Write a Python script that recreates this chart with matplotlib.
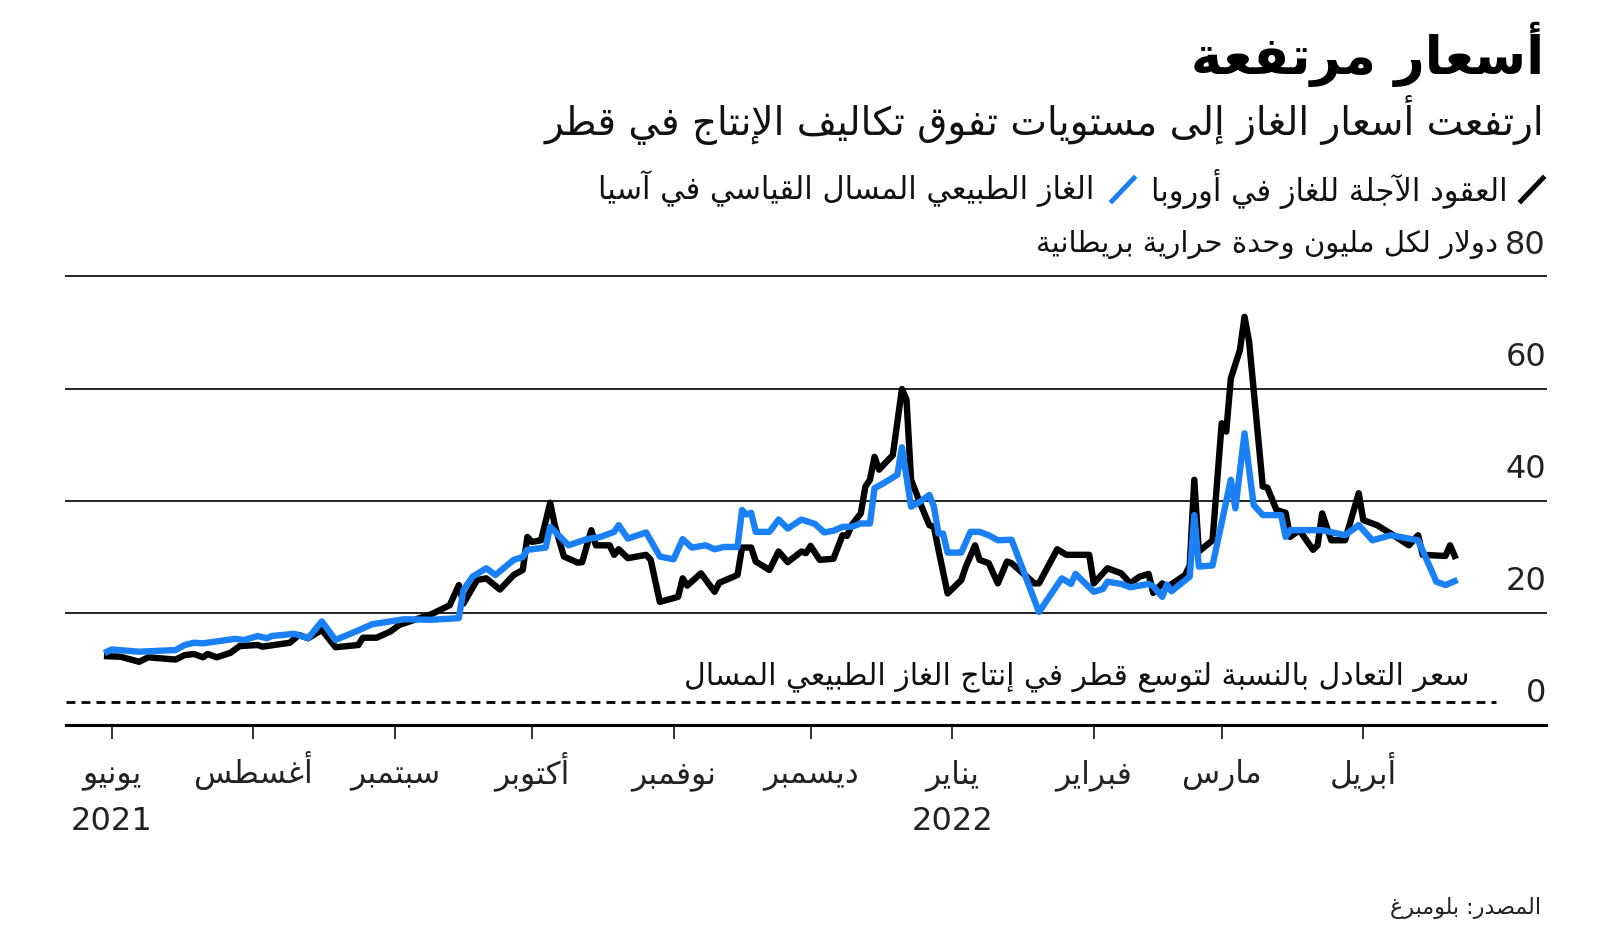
import re
import matplotlib
matplotlib.use('Agg')
import matplotlib.pyplot as plt
import pandas as pd
from matplotlib.lines import Line2D

plt.rcParams['font.family'] = ['DejaVu Sans']

# matplotlib has no Arabic shaping, so pick the presentation forms by hand
_LETTERS = [('\u0621', 1), ('\u0622', 2), ('\u0623', 2), ('\u0624', 2), ('\u0625', 2),
            ('\u0626', 4), ('\u0627', 2), ('\u0628', 4), ('\u0629', 2), ('\u062A', 4),
            ('\u062B', 4), ('\u062C', 4), ('\u062D', 4), ('\u062E', 4), ('\u062F', 2),
            ('\u0630', 2), ('\u0631', 2), ('\u0632', 2), ('\u0633', 4), ('\u0634', 4),
            ('\u0635', 4), ('\u0636', 4), ('\u0637', 4), ('\u0638', 4), ('\u0639', 4),
            ('\u063A', 4), ('\u0641', 4), ('\u0642', 4), ('\u0643', 4), ('\u0644', 4),
            ('\u0645', 4), ('\u0646', 4), ('\u0647', 4), ('\u0648', 2), ('\u0649', 2),
            ('\u064A', 4)]
FORMS = {}
_code = 0xFE80
for _ch, _n in _LETTERS:
    FORMS[_ch] = [chr(_code + i) for i in range(_n)]
    _code += _n
LAM_ALEF = {'\u0622': 0xFEF5, '\u0623': 0xFEF7, '\u0625': 0xFEF9, '\u0627': 0xFEFB}


def _dual(c):
    return c in FORMS and len(FORMS[c]) == 4


def _shape(s):
    out = []
    i = 0
    while i < len(s):
        c = s[i]
        if c not in FORMS:
            out.append(c)
            i += 1
            continue
        prev_j = i > 0 and _dual(s[i - 1]) and len(FORMS[c]) > 1
        if c == '\u0644' and i + 1 < len(s) and s[i + 1] in LAM_ALEF:
            out.append(chr(LAM_ALEF[s[i + 1]] + (1 if prev_j else 0)))
            i += 2
            continue
        nxt = s[i + 1] if i + 1 < len(s) else ''
        next_j = _dual(c) and nxt in FORMS and len(FORMS[nxt]) > 1
        f = FORMS[c]
        if prev_j and next_j:
            out.append(f[3])
        elif prev_j:
            out.append(f[1])
        elif next_j:
            out.append(f[2])
        else:
            out.append(f[0])
        i += 1
    return ''.join(out)


def ar(text):
    lines = []
    for line in text.split('\n'):
        vis = _shape(line)[::-1]
        vis = re.sub(r'[0-9A-Za-z.,%]+', lambda m: m.group(0)[::-1], vis)
        lines.append(vis)
    return '\n'.join(lines)


# ---- data (US$ per MMBtu) ----
europe_dates = ['2021-06-30', '2021-07-03', '2021-07-07', '2021-07-09', '2021-07-15', '2021-07-17',
                '2021-07-19', '2021-07-21', '2021-07-22', '2021-07-24', '2021-07-27', '2021-07-29',
                '2021-08-02', '2021-08-03', '2021-08-09', '2021-08-11', '2021-08-13', '2021-08-16',
                '2021-08-19', '2021-08-24', '2021-08-25', '2021-08-28', '2021-08-31', '2021-09-02',
                '2021-09-09', '2021-09-13', '2021-09-15', '2021-09-16', '2021-09-19', '2021-09-21',
                '2021-09-24', '2021-09-27', '2021-09-29', '2021-09-30', '2021-10-01', '2021-10-03',
                '2021-10-05', '2021-10-06', '2021-10-08', '2021-10-11', '2021-10-12', '2021-10-14',
                '2021-10-15', '2021-10-18', '2021-10-19', '2021-10-20', '2021-10-22', '2021-10-26',
                '2021-10-27', '2021-10-29', '2021-11-02', '2021-11-03', '2021-11-04', '2021-11-07',
                '2021-11-10', '2021-11-11', '2021-11-15', '2021-11-16', '2021-11-18', '2021-11-19',
                '2021-11-22', '2021-11-24', '2021-11-26', '2021-11-29', '2021-11-30', '2021-12-01',
                '2021-12-03', '2021-12-06', '2021-12-08', '2021-12-09', '2021-12-10', '2021-12-12',
                '2021-12-13', '2021-12-14', '2021-12-15', '2021-12-16', '2021-12-17', '2021-12-19',
                '2021-12-21', '2021-12-22', '2021-12-23', '2021-12-25', '2021-12-27', '2021-12-28',
                '2021-12-29', '2021-12-31', '2022-01-03', '2022-01-04', '2022-01-06', '2022-01-07',
                '2022-01-09', '2022-01-11', '2022-01-13', '2022-01-14', '2022-01-19', '2022-01-20',
                '2022-01-24', '2022-01-26', '2022-01-31', '2022-02-01', '2022-02-04', '2022-02-07',
                '2022-02-09', '2022-02-11', '2022-02-13', '2022-02-14', '2022-02-16', '2022-02-17',
                '2022-02-21', '2022-02-22', '2022-02-23', '2022-02-24', '2022-02-27', '2022-03-01',
                '2022-03-02', '2022-03-03', '2022-03-05', '2022-03-06', '2022-03-07', '2022-03-10',
                '2022-03-11', '2022-03-13', '2022-03-15', '2022-03-16', '2022-03-18', '2022-03-21',
                '2022-03-22', '2022-03-23', '2022-03-25', '2022-03-28', '2022-03-31', '2022-04-01',
                '2022-04-04', '2022-04-07', '2022-04-11', '2022-04-13', '2022-04-14', '2022-04-19',
                '2022-04-20', '2022-04-21']
europe_vals = [12.2, 12.1, 11.2, 12.0, 11.6, 12.4, 12.6, 12.0, 12.6, 12.0, 12.8, 14.0,
               14.2, 13.9, 14.6, 16.0, 15.4, 16.9, 13.8, 14.2, 15.5, 15.5, 16.6, 17.8,
               19.7, 21.3, 24.9, 21.6, 25.8, 26.1, 24.1, 26.7, 27.6, 33.5, 32.6, 32.9,
               39.6, 35.6, 30.0, 28.9, 29.0, 34.7, 32.0, 32.0, 30.3, 31.3, 29.7, 30.3,
               29.4, 21.9, 22.8, 26.1, 24.8, 27.0, 23.7, 25.3, 26.7, 31.6, 31.6, 29.1,
               27.6, 30.9, 29.0, 30.9, 30.6, 31.9, 29.4, 29.6, 33.8, 33.7, 35.6, 37.7,
               42.5, 43.7, 47.8, 45.5, 46.4, 48.1, 59.9, 58.0, 43.7, 39.5, 35.6, 35.3,
               31.2, 23.4, 25.8, 28.2, 32.0, 29.4, 28.8, 25.2, 29.1, 28.8, 25.2, 25.2,
               31.3, 30.3, 30.3, 25.2, 27.9, 27.0, 25.2, 26.4, 26.9, 23.5, 25.2, 24.5,
               26.7, 28.4, 43.7, 30.9, 32.9, 53.8, 52.3, 61.8, 66.9, 72.8, 68.4, 42.5,
               42.3, 38.3, 37.8, 33.5, 34.7, 31.2, 32.0, 37.7, 32.9, 32.9, 41.3, 36.5,
               35.6, 34.1, 32.0, 33.8, 30.3, 30.1, 32.0, 30.1]

asia_dates = ['2021-06-30', '2021-07-01', '2021-07-07', '2021-07-15', '2021-07-17', '2021-07-19',
              '2021-07-21', '2021-07-28', '2021-07-30', '2021-08-02', '2021-08-04', '2021-08-05',
              '2021-08-10', '2021-08-13', '2021-08-16', '2021-08-19', '2021-08-24', '2021-08-27',
              '2021-09-03', '2021-09-09', '2021-09-15', '2021-09-16', '2021-09-18', '2021-09-21',
              '2021-09-23', '2021-09-27', '2021-09-29', '2021-09-30', '2021-10-04', '2021-10-05',
              '2021-10-09', '2021-10-13', '2021-10-16', '2021-10-19', '2021-10-20', '2021-10-22',
              '2021-10-26', '2021-10-29', '2021-11-01', '2021-11-03', '2021-11-05', '2021-11-08',
              '2021-11-10', '2021-11-12', '2021-11-15', '2021-11-16', '2021-11-17', '2021-11-18',
              '2021-11-19', '2021-11-22', '2021-11-24', '2021-11-26', '2021-11-29', '2021-12-02',
              '2021-12-04', '2021-12-06', '2021-12-08', '2021-12-10', '2021-12-12', '2021-12-14',
              '2021-12-15', '2021-12-17', '2021-12-20', '2021-12-21', '2021-12-23', '2021-12-25',
              '2021-12-27', '2021-12-28', '2021-12-29', '2021-12-30', '2021-12-31', '2022-01-03',
              '2022-01-05', '2022-01-07', '2022-01-09', '2022-01-11', '2022-01-14', '2022-01-20',
              '2022-01-25', '2022-01-27', '2022-01-28', '2022-02-01', '2022-02-03', '2022-02-04',
              '2022-02-07', '2022-02-09', '2022-02-13', '2022-02-14', '2022-02-16', '2022-02-17',
              '2022-02-18', '2022-02-22', '2022-02-23', '2022-02-24', '2022-02-27', '2022-03-03',
              '2022-03-04', '2022-03-06', '2022-03-08', '2022-03-10', '2022-03-14', '2022-03-15',
              '2022-03-16', '2022-03-23', '2022-03-28', '2022-03-31', '2022-04-03', '2022-04-07',
              '2022-04-13', '2022-04-17', '2022-04-19', '2022-04-21']
asia_vals = [13.0, 13.4, 13.0, 13.3, 14.2, 14.6, 14.5, 15.3, 15.1, 15.8, 15.4, 15.8,
             16.2, 15.4, 18.4, 15.1, 16.8, 17.9, 18.8, 18.7, 19.0, 24.0, 26.4, 27.9,
             26.7, 29.4, 29.9, 31.2, 31.6, 35.3, 32.0, 33.1, 33.5, 34.4, 35.6, 33.2,
             34.3, 30.0, 29.5, 33.1, 31.6, 32.0, 31.3, 31.7, 31.7, 38.3, 37.5, 37.8,
             34.4, 34.4, 36.6, 35.0, 36.6, 35.8, 34.3, 34.6, 35.3, 35.3, 35.9, 35.9,
             42.2, 43.1, 44.6, 49.5, 38.9, 39.8, 41.0, 38.9, 34.1, 34.1, 30.7, 30.7,
             34.4, 34.4, 33.8, 32.9, 33.0, 20.1, 26.1, 25.1, 26.9, 23.7, 24.2, 25.5,
             25.1, 24.5, 25.1, 24.7, 22.8, 25.0, 23.8, 26.4, 37.4, 28.2, 28.4, 43.7,
             38.6, 52.0, 39.2, 37.4, 37.4, 33.5, 34.7, 34.7, 33.8, 35.6, 32.9, 33.8,
             32.9, 25.5, 24.9, 25.6]

breakeven = 4.0
y_ticks = [0, 20, 40, 60, 80]
month_ticks = ['2021-07-01', '2021-08-01', '2021-09-01', '2021-10-01', '2021-11-01',
               '2021-12-01', '2022-01-01', '2022-02-01', '2022-03-01', '2022-04-01']
month_labels = ['يونيو', 'أغسطس', 'سبتمبر', 'أكتوبر', 'نوفمبر',
                'ديسمبر', 'يناير', 'فبراير', 'مارس', 'أبريل']
year_ticks = ['2021-07-01', '2022-01-01']
year_labels = ['2021', '2022']

title = 'أسعار مرتفعة'
subtitle = 'ارتفعت أسعار الغاز إلى مستويات تفوق تكاليف الإنتاج في قطر'
europe_name = 'العقود الآجلة للغاز في أوروبا'
asia_name = 'الغاز الطبيعي المسال القياسي في آسيا'
unit_text = 'دولار لكل مليون وحدة حرارية بريطانية'
breakeven_text = 'سعر التعادل بالنسبة لتوسع قطر في إنتاج الغاز الطبيعي المسال'
source_text = 'المصدر: بلومبرغ'

BLUE = '#1a80f5'
INK = '#111111'

fig = plt.figure(figsize=(16, 9.44), dpi=100)
ax = fig.add_axes([0.04125, 0.2325, 0.925, 0.4746])

ax.plot(pd.to_datetime(europe_dates), europe_vals, color='black', lw=4.6,
        solid_joinstyle='round', zorder=3)
ax.plot(pd.to_datetime(asia_dates), asia_vals, color=BLUE, lw=4.6,
        solid_joinstyle='round', zorder=4)

ax.set_xlim(pd.Timestamp('2021-06-21'), pd.Timestamp('2022-05-11'))
ax.set_ylim(0, 80)

for v in y_ticks:
    if v > 0:
        ax.axhline(v, color='#222222', lw=1.4, zorder=1, clip_on=False)
    ax.text(1.0, v + 5.6, str(v), transform=ax.get_yaxis_transform(), ha='right',
            va='center', fontsize=23, color='#222222')

ax.axhline(breakeven, xmin=0, xmax=0.966, color='black', lw=2, ls=(0, (3.2, 2.2)), zorder=2)
ax.text(0.948, breakeven + 4.6, ar(breakeven_text), transform=ax.get_yaxis_transform(),
        ha='right', va='center', fontsize=21.5, color=INK)

for s in ['top', 'right', 'left']:
    ax.spines[s].set_visible(False)
ax.spines['bottom'].set_linewidth(2.2)
ax.set_yticks([])
ax.set_xticks(pd.to_datetime(month_ticks))
ax.set_xticklabels([])
ax.tick_params(axis='x', length=10, width=1.3, color='#222222')

# month / year labels, baseline aligned like the original
xt = ax.get_xaxis_transform()
for d, lab in zip(pd.to_datetime(month_ticks), month_labels):
    ax.text(d, -0.131, ar(lab), transform=xt, ha='center', va='baseline',
            fontsize=22.5, color='#222222')
for d, lab in zip(pd.to_datetime(year_ticks), year_labels):
    ax.text(d, -0.236, lab, transform=xt, ha='center', va='baseline',
            fontsize=23, color='#222222')

# titles
fig.text(0.965, 0.942, ar(title), ha='right', va='center', fontsize=38,
         fontweight='bold', color='black')
fig.text(0.965, 0.873, ar(subtitle), ha='right', va='center', fontsize=28, color=INK)

# legend
fig.add_artist(Line2D([1521 / 1600, 1543 / 1600], [1 - 201 / 944, 1 - 178 / 944],
                      color='black', lw=3.5, transform=fig.transFigure))
fig.text(1508 / 1600, 0.800, ar(europe_name), ha='right', va='center', fontsize=22,
         color=INK)
fig.add_artist(Line2D([1112 / 1600, 1134 / 1600], [1 - 201 / 944, 1 - 178 / 944],
                      color=BLUE, lw=3.5, transform=fig.transFigure))
fig.text(1094 / 1600, 0.800, ar(asia_name), ha='right', va='center', fontsize=22,
         color=INK)

fig.text(1498 / 1600, 0.741, ar(unit_text), ha='right', va='center', fontsize=21,
         color=INK)
fig.text(0.963, 0.038, ar(source_text), ha='right', va='center', fontsize=16,
         color='#222222')

fig.savefig('out.png', dpi=100)
